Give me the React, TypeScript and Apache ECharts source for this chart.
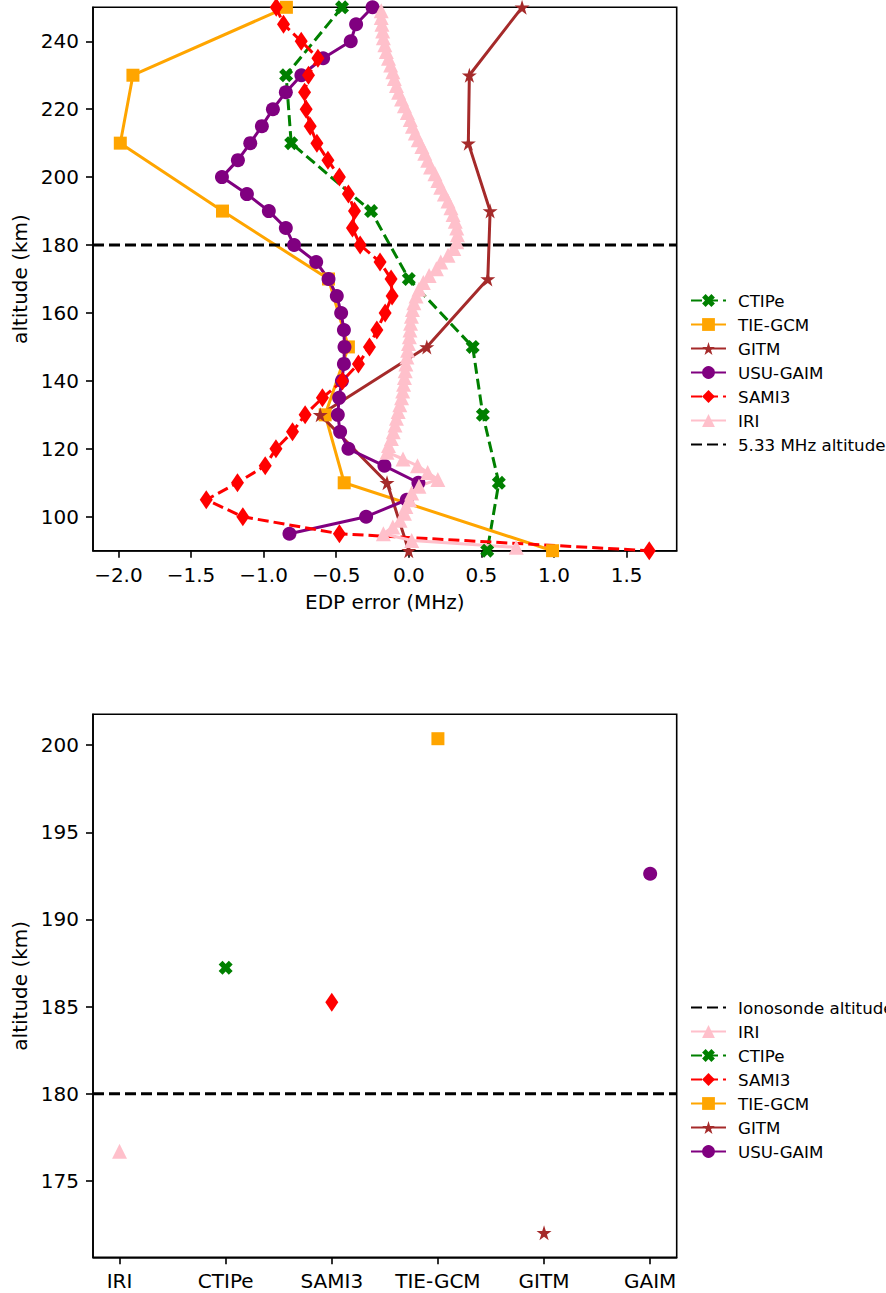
import React, { useEffect, useRef } from "react";
import * as echarts from "echarts";

// ---------- Top panel data: EDP error (MHz) vs altitude (km) ----------
const ctipeAlt = [250, 230, 210, 190, 170, 150, 130, 110, 90];
const ctipeErr = [-0.46, -0.845, -0.81, -0.26, 0.0, 0.44, 0.51, 0.62, 0.54];

const tiegcmAlt = [250, 230, 210, 190, 170, 150, 130, 110, 90];
const tiegcmErr = [-0.843, -1.9, -1.987, -1.283, -0.553, -0.416, -0.576, -0.445, 0.99];

const gitmAlt = [250, 230, 210, 190, 170, 150, 130, 110, 90];
const gitmErr = [0.78, 0.417, 0.41, 0.56, 0.544, 0.124, -0.61, -0.15, 0.0];

const gaimAlt = [
  250, 245, 240, 235, 230, 225, 220, 215, 210, 205, 200, 195, 190, 185, 180, 175,
  170, 165, 160, 155, 150, 145, 140, 135, 130, 125, 120, 115, 110, 105, 100, 95,
];
const gaimErr = [
  -0.25, -0.363, -0.4, -0.59, -0.74, -0.847, -0.936, -1.012, -1.092, -1.177, -1.287,
  -1.115, -0.964, -0.847, -0.79, -0.638, -0.553, -0.496, -0.466, -0.447, -0.443,
  -0.447, -0.461, -0.48, -0.489, -0.473, -0.416, -0.168, 0.066, -0.014, -0.294, -0.822,
];

const sami3Alt = [
  250, 245, 240, 235, 230, 225, 220, 215, 210, 205, 200, 195, 190, 185, 180, 175,
  170, 165, 160, 155, 150, 145, 140, 135, 130, 125, 120, 115, 110, 105, 100, 95, 90,
];
const sami3Err = [
  -0.913, -0.863, -0.741, -0.626, -0.691, -0.718, -0.707, -0.679, -0.633, -0.557,
  -0.478, -0.416, -0.374, -0.388, -0.335, -0.198, -0.122, -0.115, -0.163, -0.22,
  -0.271, -0.347, -0.457, -0.595, -0.714, -0.801, -0.915, -0.989, -1.18, -1.395,
  -1.143, -0.478, 1.656,
];

const iriAlt = [
  249, 247, 245, 243, 241, 239, 237, 235, 233, 231, 229, 227, 225, 223, 221, 219,
  217, 215, 213, 211, 209, 207, 205, 203, 201, 199, 197, 195, 193, 191, 189, 187,
  185, 183, 181, 179, 177, 175, 173, 171, 169, 167, 165, 163, 161, 159, 157, 155,
  153, 151, 149, 147, 145, 143, 141, 139, 137, 135, 133, 131, 129, 127, 125, 123,
  121, 119, 117, 115, 113, 111, 109, 107, 105, 103, 101, 99, 97, 95, 93, 91,
];
const iriErr = [
  -0.19, -0.19, -0.185, -0.18, -0.175, -0.165, -0.155, -0.14, -0.125, -0.11, -0.1,
  -0.085, -0.07, -0.05, -0.03, -0.01, 0.01, 0.025, 0.045, 0.065, 0.09, 0.11, 0.13,
  0.15, 0.18, 0.2, 0.22, 0.245, 0.27, 0.29, 0.305, 0.32, 0.33, 0.335, 0.33, 0.31,
  0.27, 0.22, 0.19, 0.14, 0.1, 0.07, 0.05, 0.035, 0.025, 0.018, 0.012, 0.008, 0.004,
  -0.002, -0.008, -0.013, -0.02, -0.025, -0.03, -0.036, -0.042, -0.05, -0.062,
  -0.073, -0.085, -0.095, -0.107, -0.12, -0.14, -0.15, -0.04, 0.06, 0.13, 0.2, 0.07,
  0.02, 0.005, -0.02, -0.03, -0.06, -0.11, -0.175, 0.02, 0.74,
];

const refAltitude = 180; // 5.33 MHz altitude / ionosonde altitude
const topXTicks = [-2.0, -1.5, -1.0, -0.5, 0.0, 0.5, 1.0, 1.5];
const topYTicks = [100, 120, 140, 160, 180, 200, 220, 240];

// ---------- Bottom panel data ----------
const summaryLabels = ["IRI", "CTIPe", "SAMI3", "TIE-GCM", "GITM", "GAIM"];
const summaryNames = ["IRI", "CTIPe", "SAMI3", "TIE-GCM", "GITM", "USU-GAIM"];
const summaryAlt = [176.7, 187.23, 185.25, 200.37, 172.03, 192.62];
const bottomYTicks = [175, 180, 185, 190, 195, 200];

// ---------- Styles ----------
const FONT = "DejaVu Sans";
const STAR =
  "path://M0,-1L0.2245,-0.309L0.951,-0.309L0.363,0.118L0.588,0.809L0,0.382L-0.588,0.809L-0.363,0.118L-0.951,-0.309L-0.2245,-0.309Z";
const XMARK =
  "path://M-0.45,-1L0,-0.55L0.45,-1L1,-0.45L0.55,0L1,0.45L0.45,1L0,0.55L-0.45,1L-1,0.45L-0.55,0L-1,-0.45Z";

const styles: Record<string, any> = {
  CTIPe: { color: "#008000", symbol: XMARK, size: 14, dash: [11, 5] },
  "TIE-GCM": { color: "#FFA500", symbol: "rect", size: 13, dash: "solid" },
  GITM: { color: "#A52A2A", symbol: STAR, size: 15, dash: "solid" },
  "USU-GAIM": { color: "#800080", symbol: "circle", size: 14, dash: "solid" },
  SAMI3: { color: "#FF0000", symbol: "diamond", size: [13, 19], dash: [11, 5] },
  IRI: { color: "#FFC0CB", symbol: "triangle", size: 15, dash: "solid" },
};

const TOP_XMIN = -2.175;
const TOP_XMAX = 1.845;
const BOT_XMIN = -0.25;
const BOT_XMAX = 5.25;

const fmtMinus = (v: number) => (v < 0 ? "\u2212" : "") + Math.abs(v).toFixed(1);

function pairs(xs: number[], ys: number[]) {
  return xs.map((x, i) => [x, ys[i]]);
}

function lineSeries(name: string, data: number[][], axis: number) {
  const s = styles[name];
  return {
    type: "line",
    name,
    xAxisIndex: axis,
    yAxisIndex: axis,
    data,
    symbol: s.symbol,
    symbolSize: s.size,
    showSymbol: true,
    clip: true,
    silent: true,
    lineStyle: { color: s.color, width: 3, type: s.dash },
    itemStyle: { color: s.color, borderWidth: 0 },
  };
}

function refLine(name: string, axis: number, xmin: number, xmax: number) {
  return {
    type: "line",
    name,
    xAxisIndex: axis,
    yAxisIndex: axis,
    data: [
      [xmin, refAltitude],
      [xmax, refAltitude],
    ],
    symbol: "none",
    silent: true,
    lineStyle: { color: "#000", width: 3, type: [11, 5] },
    itemStyle: { color: "rgba(0,0,0,0)" },
  };
}

const axisLineStyle = { color: "#000", width: 1.6 };
const labelStyle = { fontSize: 20, color: "#000", fontFamily: FONT };

export default function App() {
  const ref = useRef<HTMLDivElement>(null);
  useEffect(() => {
    if (!ref.current) return;
    const chart = echarts.init(ref.current, undefined, { renderer: "svg" });

    const topSeries: any[] = [
      lineSeries("CTIPe", pairs(ctipeErr, ctipeAlt), 0),
      lineSeries("TIE-GCM", pairs(tiegcmErr, tiegcmAlt), 0),
      lineSeries("GITM", pairs(gitmErr, gitmAlt), 0),
      lineSeries("USU-GAIM", pairs(gaimErr, gaimAlt), 0),
      lineSeries("SAMI3", pairs(sami3Err, sami3Alt), 0),
      lineSeries("IRI", pairs(iriErr, iriAlt), 0),
      refLine("5.33 MHz altitude", 0, TOP_XMIN, TOP_XMAX),
    ];

    const bottomSeries: any[] = [
      refLine("Ionosonde altitude", 1, BOT_XMIN, BOT_XMAX),
      ...summaryNames.map((n, i) => lineSeries(n, [[i, summaryAlt[i]]], 1)),
    ];

    const legendCommon = {
      orient: "vertical",
      left: 690,
      itemWidth: 35,
      itemHeight: 16,
      itemGap: 7,
      padding: 0,
      selectedMode: false,
      textStyle: { fontSize: 16.7, color: "#000", fontFamily: FONT, padding: [0, 0, 0, 7] },
    };

    chart.setOption({
      animation: false,
      backgroundColor: "#fff",
      textStyle: { fontFamily: FONT },
      legend: [
        {
          ...legendCommon,
          top: 292,
          data: ["CTIPe", "TIE-GCM", "GITM", "USU-GAIM", "SAMI3", "IRI", "5.33 MHz altitude"],
        },
        {
          ...legendCommon,
          top: 999,
          data: ["Ionosonde altitude", "IRI", "CTIPe", "SAMI3", "TIE-GCM", "GITM", "USU-GAIM"],
        },
      ],
      grid: [
        {
          left: 93,
          top: 7.3,
          width: 583.7,
          height: 543.4,
          show: true,
          borderColor: "#000",
          borderWidth: 1.6,
          containLabel: false,
          outerBoundsMode: "none",
        },
        {
          left: 93,
          top: 714.3,
          width: 583.7,
          height: 543,
          show: true,
          borderColor: "#000",
          borderWidth: 1.6,
          containLabel: false,
          outerBoundsMode: "none",
        },
      ],
      xAxis: [
        {
          gridIndex: 0,
          type: "value",
          min: TOP_XMIN,
          max: TOP_XMAX,
          name: "EDP error (MHz)",
          nameLocation: "middle",
          nameGap: 41,
          nameTextStyle: labelStyle,
          axisLine: { onZero: false, lineStyle: axisLineStyle },
          axisTick: { customValues: topXTicks, length: 7, lineStyle: axisLineStyle },
          axisLabel: { customValues: topXTicks, formatter: fmtMinus, margin: 14, ...labelStyle },
          splitLine: { show: false },
        },
        {
          gridIndex: 1,
          type: "value",
          min: BOT_XMIN,
          max: BOT_XMAX,
          axisLine: { onZero: false, lineStyle: axisLineStyle },
          axisTick: { customValues: [0, 1, 2, 3, 4, 5], length: 7, lineStyle: axisLineStyle },
          axisLabel: {
            customValues: [0, 1, 2, 3, 4, 5],
            formatter: (v: number) => summaryLabels[Math.round(v)],
            margin: 14,
            ...labelStyle,
          },
          splitLine: { show: false },
        },
      ],
      yAxis: [
        {
          gridIndex: 0,
          type: "value",
          min: 90,
          max: 250,
          name: "altitude (km)",
          nameLocation: "middle",
          nameGap: 61,
          nameRotate: 90,
          nameTextStyle: labelStyle,
          axisLine: { onZero: false, lineStyle: axisLineStyle },
          axisTick: { customValues: topYTicks, length: 7, lineStyle: axisLineStyle },
          axisLabel: { customValues: topYTicks, margin: 14, ...labelStyle },
          splitLine: { show: false },
        },
        {
          gridIndex: 1,
          type: "value",
          min: 170.62,
          max: 201.77,
          name: "altitude (km)",
          nameLocation: "middle",
          nameGap: 61,
          nameRotate: 90,
          nameTextStyle: labelStyle,
          axisLine: { onZero: false, lineStyle: axisLineStyle },
          axisTick: { customValues: bottomYTicks, length: 7, lineStyle: axisLineStyle },
          axisLabel: { customValues: bottomYTicks, margin: 14, ...labelStyle },
          splitLine: { show: false },
        },
      ],
      series: [...topSeries, ...bottomSeries],
    });

    return () => chart.dispose();
  }, []);

  return (
    <div
      ref={ref}
      style={{ position: "absolute", left: 0, top: 0, width: 886, height: 1293, background: "#fff" }}
    />
  );
}
